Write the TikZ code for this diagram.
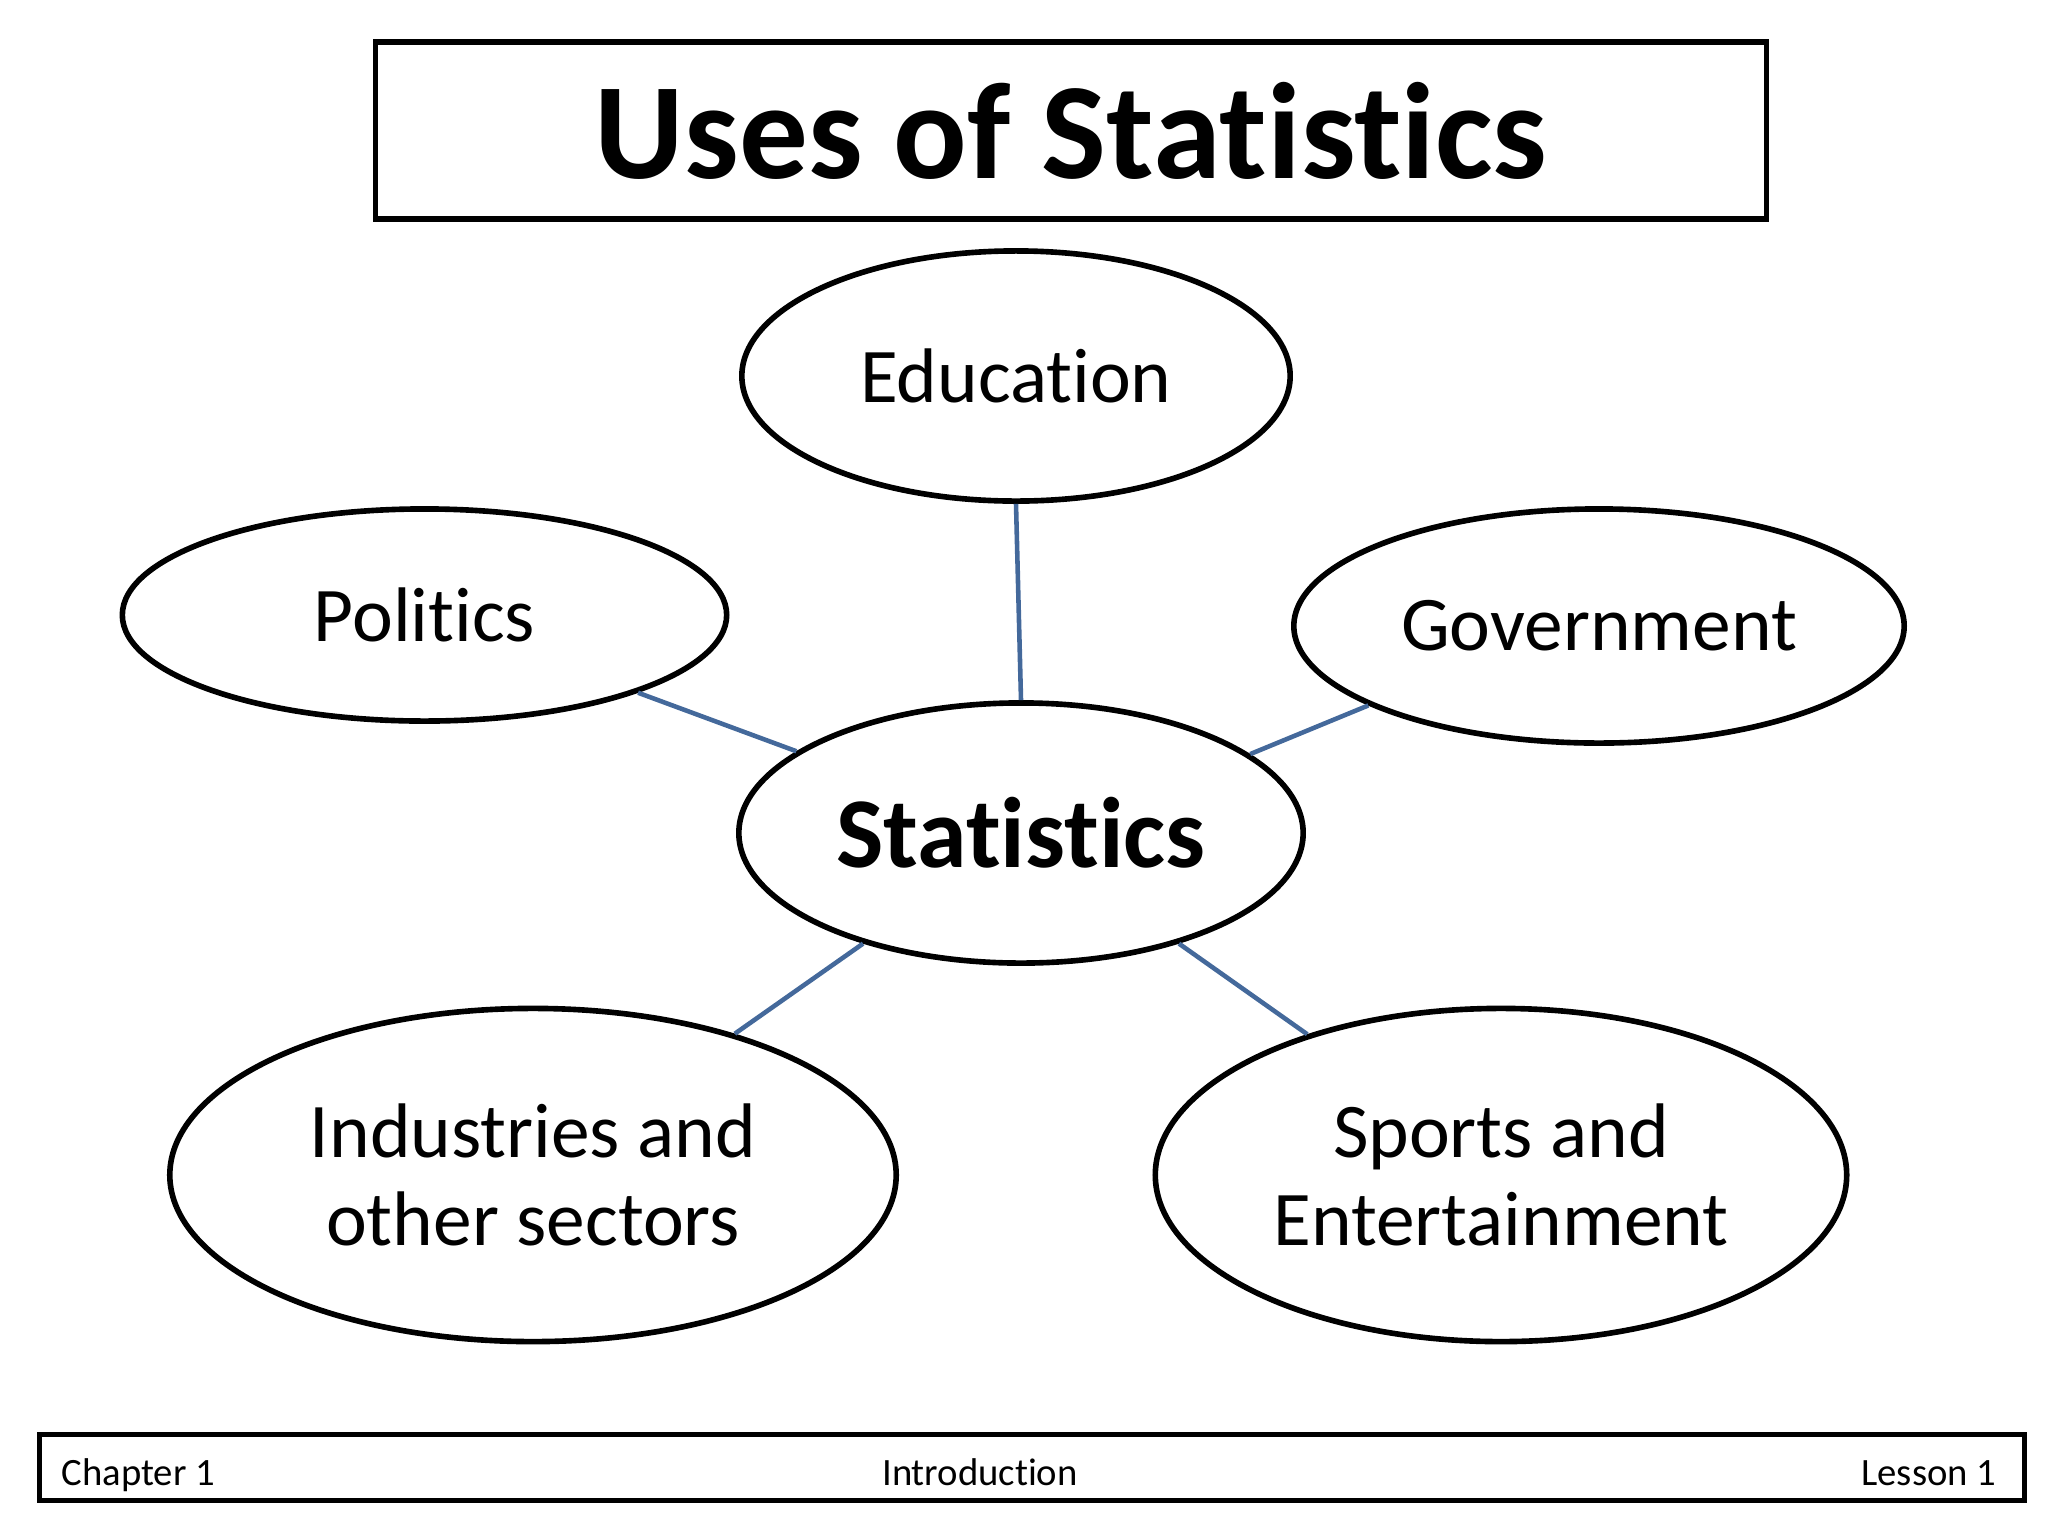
\documentclass[tikz,border=0pt]{standalone}
\usepackage{fontspec}
\setmainfont{Carlito}[RawFeature=-liga]
\usetikzlibrary{shapes.geometric}
\definecolor{linkblue}{HTML}{44699B}
\begin{document}
\begin{tikzpicture}[x=0.01cm,y=-0.01cm,
  bubble/.style={ellipse,draw,line width=1.6pt,inner sep=0pt,align=center,font=\fontsize{22}{25}\selectfont},
  link/.style={draw=linkblue,line width=1.3pt},
  foot/.style={font=\fontsize{11}{13}\selectfont,inner sep=0pt}]
\useasboundingbox (0,0) rectangle (2048,1536);
\node[draw,line width=1.5pt,minimum width=13.9cm,minimum height=1.77cm,inner sep=0pt,
      font=\bfseries\fontsize{39}{44}\selectfont] (title) at (1071,130.5) {Uses of Statistics};
\node[bubble,minimum width=5.48cm,minimum height=2.5cm] (edu) at (1016,376) {Education};
\node[bubble,minimum width=6.04cm,minimum height=2.12cm] (pol) at (424.5,615) {Politics};
\node[bubble,minimum width=6.10cm,minimum height=2.34cm] (gov) at (1599,626) {Government};
\node[bubble,minimum width=5.64cm,minimum height=2.60cm,font=\bfseries\fontsize{28.5}{32}\selectfont] (stat) at (1021,833) {Statistics};
\node[bubble,minimum width=7.26cm,minimum height=3.33cm] (ind) at (533,1175) {Industries and\\other sectors};
\node[bubble,minimum width=6.91cm,minimum height=3.33cm] (sports) at (1501,1175) {Sports and\\Entertainment};
\draw[link] (edu.south) -- (stat.north);
\draw[link] (pol.-20.4) -- (stat.160.1);
\draw[link] (gov.199.8) -- (stat.19.8);
\draw[link] (stat.215) -- (ind.35);
\draw[link] (stat.325) -- (sports.144.4);
\node[draw,line width=1.6pt,minimum width=19.84cm,minimum height=0.66cm,inner sep=0pt] (footer) at (1032,1467.5) {};
\node[foot,anchor=base west] (chap) at (61,1485) {Chapter 1};
\node[foot,anchor=base] (intro) at (980,1485) {Introduction};
\node[foot,anchor=base east] (lesson) at (1997,1485) {Lesson 1};
\end{tikzpicture}
\end{document}
